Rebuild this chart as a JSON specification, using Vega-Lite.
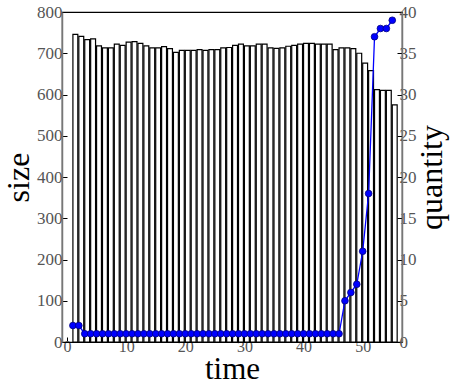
{
  "$schema": "https://vega.github.io/schema/vega-lite/v6.json",
  "autosize": "none",
  "width": 340,
  "height": 330,
  "padding": {"left": 62, "top": 12, "right": 48, "bottom": 44},
  "background": "white",
  "config": {
    "font": "Liberation Serif",
    "view": {"stroke": "black", "strokeWidth": 1.2},
    "axis": {
      "labelFont": "Liberation Serif",
      "titleFont": "Liberation Serif",
      "labelFontSize": 17,
      "labelColor": "#555",
      "labelOverlap": false,
      "titleFontSize": 32,
      "titleFontWeight": "normal",
      "titleColor": "black",
      "grid": false,
      "domainColor": "#777",
      "domainWidth": 1.5,
      "tickColor": "black",
      "tickSize": -5,
      "labelPadding": 2
    }
  },
  "data": {
    "values": [
      {"time": 1, "size": 746, "quantity": 2},
      {"time": 2, "size": 741, "quantity": 2},
      {"time": 3, "size": 733, "quantity": 1},
      {"time": 4, "size": 735, "quantity": 1},
      {"time": 5, "size": 718, "quantity": 1},
      {"time": 6, "size": 713, "quantity": 1},
      {"time": 7, "size": 713, "quantity": 1},
      {"time": 8, "size": 722, "quantity": 1},
      {"time": 9, "size": 719, "quantity": 1},
      {"time": 10, "size": 727, "quantity": 1},
      {"time": 11, "size": 728, "quantity": 1},
      {"time": 12, "size": 724, "quantity": 1},
      {"time": 13, "size": 718, "quantity": 1},
      {"time": 14, "size": 713, "quantity": 1},
      {"time": 15, "size": 713, "quantity": 1},
      {"time": 16, "size": 716, "quantity": 1},
      {"time": 17, "size": 711, "quantity": 1},
      {"time": 18, "size": 702, "quantity": 1},
      {"time": 19, "size": 707, "quantity": 1},
      {"time": 20, "size": 707, "quantity": 1},
      {"time": 21, "size": 707, "quantity": 1},
      {"time": 22, "size": 709, "quantity": 1},
      {"time": 23, "size": 707, "quantity": 1},
      {"time": 24, "size": 709, "quantity": 1},
      {"time": 25, "size": 709, "quantity": 1},
      {"time": 26, "size": 713, "quantity": 1},
      {"time": 27, "size": 714, "quantity": 1},
      {"time": 28, "size": 719, "quantity": 1},
      {"time": 29, "size": 722, "quantity": 1},
      {"time": 30, "size": 718, "quantity": 1},
      {"time": 31, "size": 718, "quantity": 1},
      {"time": 32, "size": 722, "quantity": 1},
      {"time": 33, "size": 722, "quantity": 1},
      {"time": 34, "size": 713, "quantity": 1},
      {"time": 35, "size": 712, "quantity": 1},
      {"time": 36, "size": 713, "quantity": 1},
      {"time": 37, "size": 717, "quantity": 1},
      {"time": 38, "size": 719, "quantity": 1},
      {"time": 39, "size": 722, "quantity": 1},
      {"time": 40, "size": 724, "quantity": 1},
      {"time": 41, "size": 724, "quantity": 1},
      {"time": 42, "size": 722, "quantity": 1},
      {"time": 43, "size": 722, "quantity": 1},
      {"time": 44, "size": 722, "quantity": 1},
      {"time": 45, "size": 709, "quantity": 1},
      {"time": 46, "size": 713, "quantity": 1},
      {"time": 47, "size": 713, "quantity": 5},
      {"time": 48, "size": 711, "quantity": 6},
      {"time": 49, "size": 700, "quantity": 7},
      {"time": 50, "size": 676, "quantity": 11},
      {"time": 51, "size": 658, "quantity": 18},
      {"time": 52, "size": 612, "quantity": 37},
      {"time": 53, "size": 610, "quantity": 38},
      {"time": 54, "size": 610, "quantity": 38},
      {"time": 55, "size": 575, "quantity": 39}
    ]
  },
  "encoding": {
    "x": {
      "field": "time",
      "type": "quantitative",
      "scale": {"domain": [0, 55.8], "nice": false, "zero": false},
      "axis": {"title": "time", "values": [0, 10, 20, 30, 40, 50], "labelFontSize": 16, "labelPadding": 1, "titleFontSize": 31, "titlePadding": 0, "labelFont": "Liberation Serif", "titleFont": "Liberation Serif", "domainColor": "black", "domainWidth": 1}
    }
  },
  "layer": [
    {
      "mark": {"type": "bar", "width": 4.9, "xOffset": 2.45, "fill": "white", "stroke": "black", "strokeWidth": 1.2},
      "encoding": {
        "y": {
          "field": "size",
          "type": "quantitative",
          "scale": {"domain": [0, 800], "nice": false},
          "axis": {"title": "size", "orient": "left", "labelFont": "Liberation Serif", "titleFont": "Liberation Serif", "labelPadding": 5, "values": [0, 100, 200, 300, 400, 500, 600, 700, 800], "titlePadding": 1}
        }
      }
    },
    {
      "mark": {"type": "line", "color": "#0000ff", "strokeWidth": 1.3, "point": {"filled": true, "fill": "#0000ff", "stroke": "#000080", "strokeWidth": 0.8, "size": 45}},
      "encoding": {
        "y": {
          "field": "quantity",
          "type": "quantitative",
          "scale": {"domain": [0, 40], "nice": false},
          "axis": {"title": "quantity", "orient": "right", "labelFont": "Liberation Serif", "titleFont": "Liberation Serif", "titleAngle": 270, "titleBaseline": "top", "values": [0, 5, 10, 15, 20, 25, 30, 35, 40], "titlePadding": 0}
        }
      }
    }
  ],
  "resolve": {"scale": {"y": "independent"}}
}
